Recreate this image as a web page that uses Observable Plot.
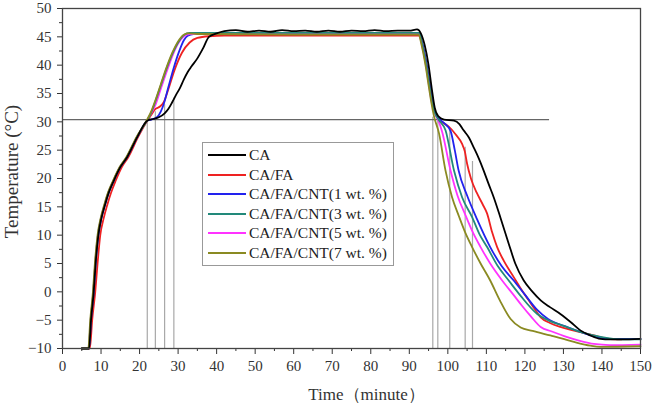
<!DOCTYPE html>
<html><head><meta charset="utf-8">
<script src="https://cdn.jsdelivr.net/npm/d3@7"></script>
<script src="https://cdn.jsdelivr.net/npm/@observablehq/plot@0.6"></script>
<style>
body{margin:0;background:#fff}
#wrap{position:relative;width:653px;height:407px}
#legend{position:absolute;left:202px;top:142px;width:192px;height:124px;border:1px solid #999;background:#fff;box-sizing:border-box;font-family:"Liberation Serif",serif;font-size:15.5px;color:#222}
.row{position:absolute;left:0;height:20px;display:flex;align-items:center;white-space:nowrap}
.sw{width:38px;height:2px;margin-left:5px;margin-right:3px}
</style></head><body><div id="wrap"></div>
<script>
// Series names and colours
const names = ["CA", "CA/FA", "CA/FA/CNT(1 wt. %)", "CA/FA/CNT(3 wt. %)", "CA/FA/CNT(5 wt. %)", "CA/FA/CNT(7 wt. %)"];
const colors = ["#000000", "#ee2222", "#2222ee", "#22897a", "#ff33ff", "#8a8a22"];

// CA
const caX = [5, 6.9, 7.4, 8.1, 8.6, 9.3, 10.1, 11.0, 12.0, 13.3, 15.0, 16.8, 19.4, 22.0, 23.5, 25, 26.5, 27.5, 28.5, 29.5, 30.5, 31.5, 32.5, 33.5, 35, 36.5, 38, 40, 42, 45, 48, 51, 54, 57, 60, 63, 66, 69, 72, 75, 78, 81, 84, 87, 90, 92, 93, 94, 95, 95.8, 96.6, 97.5, 99, 101.6, 103, 104.1, 105.5, 106.7, 108, 109.3, 110.6, 111.9, 113.7, 115.8, 117.5, 119.7, 122, 124.1, 126.5, 129.2, 132, 134.4, 137, 139.6, 142, 145, 150];
const caY = [-10, -10, -5, 0, 5, 10, 13, 15.3, 17.5, 19.6, 22, 23.8, 27.3, 30.2, 30.5, 30.8, 31.5, 32.3, 33.5, 34.8, 36, 37.5, 38.8, 39.8, 41.2, 43, 45, 45.6, 46, 46.2, 45.9, 46.1, 45.9, 46.2, 46.0, 46.1, 45.9, 46.1, 45.9, 46.1, 46.0, 46.2, 46.0, 46.1, 46.1, 46.3, 45.6, 43.5, 40, 36, 32.5, 31, 30.4, 30.2, 29.6, 28.5, 27.2, 25.5, 23.6, 21.4, 19, 16.7, 13.0, 8.5, 5.0, 2.0, 0, -1.5, -2.7, -3.9, -5.4, -6.8, -7.7, -8.3, -8.4, -8.4, -8.3];

// CA/FA
const faX = [5, 7.1, 7.7, 8.5, 9.1, 9.8, 10.7, 11.6, 12.6, 13.8, 15.4, 17.1, 19.6, 22.0, 23, 24, 25.3, 26.3, 27.5, 29, 31, 33, 35, 38, 42, 60, 80, 92.5, 93.5, 94.5, 95.3, 96, 96.8, 97.7, 98.8, 100.3, 102, 103.7, 104.4, 105, 106, 107.5, 109, 110.2, 111.5, 112.8, 114.5, 117.1, 119, 121, 122.5, 124.1, 126.5, 129.2, 132.5, 136.2, 139, 141.4, 145];
const faY = [-10, -10, -5, 0, 5, 10, 13, 15.3, 17.5, 19.6, 22, 23.8, 27.3, 30.2, 31.2, 32.2, 32.7, 33.5, 35.8, 39, 42.2, 44.0, 44.8, 45.1, 45.2, 45.2, 45.2, 45.2, 43.2, 40, 36.5, 33.5, 31.5, 30.3, 29.8, 29.1, 27.8, 26.1, 24.8, 22.6, 20, 17.5, 15.5, 13.8, 10.5, 7.9, 5.5, 2.6, 0.5, -1.5, -3, -4.5, -5.5, -6.2, -6.8, -7.4, -7.9, -8.3, -8.4];

// CA/FA/CNT(1 wt. %)
const c1X = [5, 6.9, 7.4, 8.1, 8.6, 9.3, 10.1, 11.0, 12.0, 13.3, 15.0, 16.8, 19.4, 22.0, 23, 24.5, 25.5, 26.3, 27.5, 28.9, 30.2, 31.5, 32.5, 34, 40, 60, 80, 92.6, 93.5, 94.5, 95.3, 96, 96.8, 97.7, 99, 100.7, 101.8, 102.8, 105, 107.6, 111, 114, 117.1, 120, 123.2, 126, 131, 135, 138.8, 142, 150];
const c1Y = [-10, -10, -5, 0, 5, 10, 13, 15.3, 17.5, 19.6, 22, 23.8, 27.3, 30.2, 30.4, 30.8, 31.8, 33.2, 36.2, 39.6, 42.3, 44.4, 45.2, 45.5, 45.5, 45.5, 45.5, 45.5, 43.5, 40, 36.5, 33.5, 31.5, 30.6, 29.8, 28.4, 25, 21.4, 17, 12.8, 7.9, 4.5, 2.0, -0.5, -3.2, -4.8, -6.2, -7.2, -8.0, -8.3, -8.3];

// CA/FA/CNT(3 wt. %)
const c3X = [5, 6.8, 7.3, 8.0, 8.5, 9.2, 10.0, 10.9, 11.9, 13.2, 14.9, 16.7, 19.3, 21.9, 23, 24, 25.5, 27, 28.5, 30, 31.5, 33, 40, 60, 80, 92.6, 93.4, 94.4, 95.2, 95.9, 96.7, 97.5, 99.4, 101.6, 103.7, 106.3, 108.2, 110.2, 113, 115.8, 119, 123.2, 126, 130, 135, 140, 145, 150];
const c3Y = [-10, -10, -5, 0, 5, 10, 13, 15.3, 17.5, 19.6, 22, 23.8, 27.3, 30.2, 31.6, 33.4, 36.4, 39.4, 42, 44, 45.3, 45.7, 45.7, 45.7, 45.7, 45.7, 43.5, 40, 36.5, 33.5, 31.5, 30.5, 28.5, 21.4, 16.7, 13.2, 10.2, 7.9, 4.5, 2.0, -0.8, -3.9, -5.0, -6.0, -7.2, -8.0, -8.4, -8.4];

// CA/FA/CNT(5 wt. %)
const c5X = [5, 6.8, 7.3, 8.0, 8.5, 9.2, 10.0, 10.9, 11.9, 13.2, 14.9, 16.7, 19.3, 21.9, 23, 24, 25.5, 27, 28.5, 30, 31.5, 33, 40, 60, 80, 92.5, 93.3, 94.3, 95.1, 95.8, 96.6, 97.5, 98.5, 100.7, 102.5, 104.6, 106.5, 108.5, 111, 114.1, 117, 119.3, 121.5, 124.1, 127, 131, 134.5, 137.9, 142, 150];
const c5Y = [-10, -10, -5, 0, 5, 10, 13, 15.3, 17.5, 19.6, 22, 23.8, 27.3, 30.2, 31.5, 32.8, 35.8, 38.8, 41.6, 43.8, 45.1, 45.5, 45.5, 45.5, 45.5, 45.5, 43.5, 40, 36.5, 33.5, 31.5, 30.3, 28.3, 21.4, 17, 13.5, 10.5, 7.9, 5, 2.0, -0.5, -2.5, -4.3, -6.2, -7.0, -8.0, -8.7, -9.2, -9.4, -9.3];

// CA/FA/CNT(7 wt. %)
const c7X = [5, 6.7, 7.2, 7.9, 8.4, 9.1, 9.9, 10.8, 11.8, 13.1, 14.8, 16.6, 19.2, 21.8, 23, 24, 25.5, 27, 28.5, 30, 31.3, 32.5, 35, 60, 80, 92.4, 93.2, 94.2, 95, 95.7, 96.4, 97.7, 99.4, 101.1, 102.9, 104.5, 106.3, 108.5, 111, 113.5, 116.3, 118.9, 122, 126.6, 130, 133.6, 137, 139.6, 150];
const c7Y = [-10, -10, -5, 0, 5, 10, 13, 15.3, 17.5, 19.6, 22, 23.8, 27.3, 30.2, 31.8, 33.6, 36.6, 39.6, 42.2, 44.2, 45.3, 45.6, 45.5, 45.4, 45.4, 45.4, 43.5, 40, 36.5, 33.5, 31.0, 28, 21.4, 16.7, 13.3, 10.5, 7.9, 5, 2, -1.5, -4.8, -6.3, -6.9, -7.7, -8.3, -9.0, -9.5, -9.7, -9.6];

// Guide lines
const heatX = [22.0, 24.1, 26.5, 28.9];
const heatTop = [30.2, 31.8, 33.0, 34.2];
const coolX = [96.1, 97.4, 100.5, 104.5, 106.4];
const coolTop = [30.8, 30.8, 28.8, 25.5, 23.0];
const refY = 30.4;
const refXEnd = 126.4;

// Axis ticks
const xTicks = d3.range(0, 151, 10);
const xMinor = d3.range(5, 150, 10);
const yTicks = d3.range(-10, 51, 5);
const yMinor = d3.range(-7.5, 50, 5);

const FONT = "Liberation Serif, serif";
const seriesXY = [[caX, caY], [faX, faY], [c1X, c1Y], [c3X, c3Y], [c5X, c5Y], [c7X, c7Y]];
const series = seriesXY.map(([xs, ys], i) => ({name: names[i], color: colors[i], pts: xs.map((x, j) => ({x, y: ys[j]}))}));
const drawOrder = [1, 2, 4, 3, 5, 0];

const rules = heatX.map((x, i) => ({x, top: heatTop[i]})).concat(coolX.map((x, i) => ({x, top: coolTop[i]})));

const chart = Plot.plot({
  width: 653, height: 407,
  marginLeft: 62, marginRight: 13, marginTop: 8, marginBottom: 59,
  x: {domain: [0, 150]},
  y: {domain: [-10, 50]},
  style: {fontFamily: FONT, fontSize: "15px", color: "#333", background: "#fff"},
  marks: [
    Plot.ruleX(rules, {x: "x", y1: -10, y2: "top", stroke: "#a8a8a8", strokeWidth: 1.2}),
    Plot.ruleY([refY], {x1: 0, x2: refXEnd, stroke: "#666", strokeWidth: 1.2}),
    ...drawOrder.map(i => Plot.line(series[i].pts, {x: "x", y: "y", stroke: series[i].color, strokeWidth: 1.8, curve: "monotone-x"})),
    Plot.axisX({ticks: xTicks, tickSize: 6, tickPadding: 6, label: null, fontSize: 15, fontFamily: FONT}),
    Plot.axisX({ticks: xMinor, tickSize: 3, tickFormat: () => "", label: null}),
    Plot.axisY({ticks: yTicks, tickSize: 5, tickPadding: 6, label: null, fontSize: 15, fontFamily: FONT}),
    Plot.axisY({ticks: yMinor, tickSize: 3, tickFormat: () => "", label: null}),
    Plot.frame({stroke: "#444", strokeWidth: 1.3}),
    Plot.text(["Temperature (°C)"], {text: d => d, frameAnchor: "left", textAnchor: "middle", rotate: -90, dx: -51, dy: -7, fontSize: 19, fontFamily: FONT, fill: "#333"}),
    Plot.text(["Time（minute）"], {text: d => d, frameAnchor: "bottom", textAnchor: "middle", dx: 15, dy: 51, fontSize: 17, fontFamily: FONT, fill: "#333"})
  ]
});

const wrap = document.getElementById("wrap");
wrap.appendChild(chart);

const legend = document.createElement("div");
legend.id = "legend";
series.forEach((s, i) => {
  const row = document.createElement("div");
  row.className = "row";
  row.style.top = (2 + i * 19.6) + "px";
  const sw = document.createElement("span");
  sw.className = "sw";
  sw.style.background = s.color;
  const t = document.createElement("span");
  t.textContent = s.name;
  row.appendChild(sw);
  row.appendChild(t);
  legend.appendChild(row);
});
wrap.appendChild(legend);
</script></body></html>
